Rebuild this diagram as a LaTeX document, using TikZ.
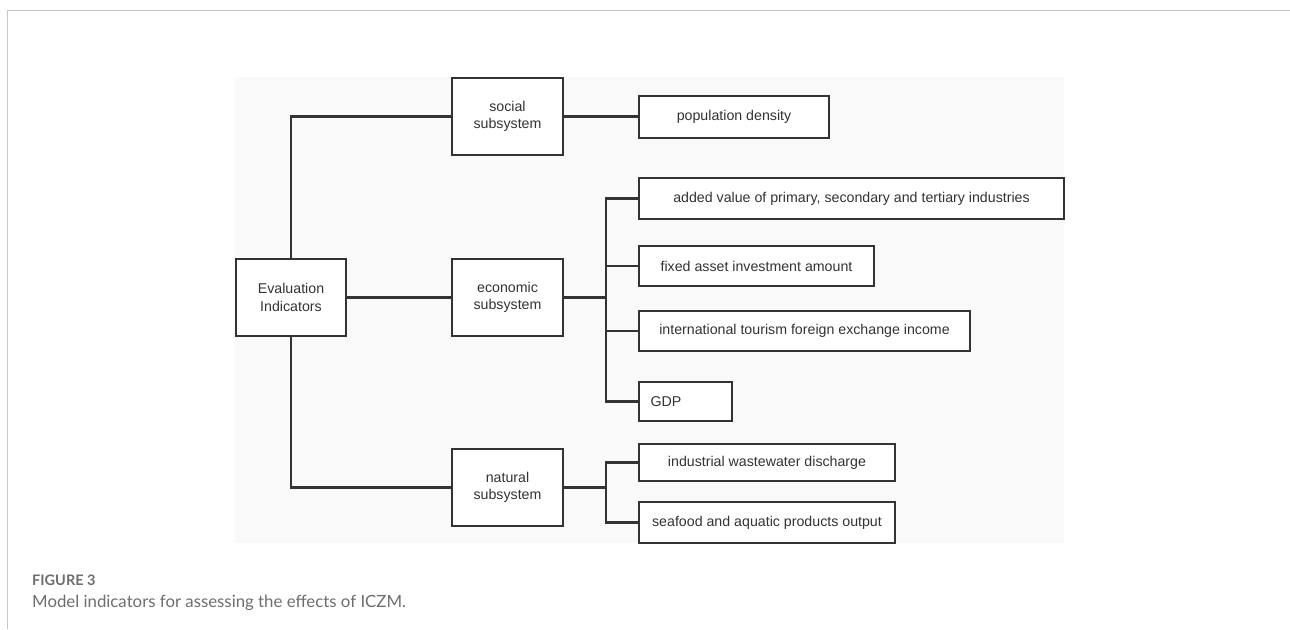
\documentclass[tikz,border=0pt]{standalone}
\usepackage{fontspec}
\setmainfont{Liberation Sans}
\newfontfamily\capfont{Lato}
\newfontfamily\capbold{Lato Bold}
\definecolor{ink}{HTML}{333333}
\definecolor{panel}{HTML}{F9F9F9}
\definecolor{frame}{HTML}{C8C8C8}
\definecolor{capgray}{HTML}{6E6E6E}
\begin{document}
\begin{tikzpicture}[x=1pt,y=-1pt,
  box/.style={draw=ink,line width=2.1pt,fill=white,inner sep=0pt,align=center,
    text=ink,font=\fontsize{14.2}{17.5}\selectfont},
  link/.style={draw=ink,line width=2.1pt}]
\useasboundingbox (0,0) rectangle (1290,629);
\fill[white] (0,0) rectangle (1290,629);
\draw[frame,line width=1pt] (7.5,629) -- (7.5,10.5) -- (1290,10.5);
\fill[panel] (235,77) rectangle (1064,543);
% main boxes
\node[box,minimum width=110pt,minimum height=77pt] (eval) at (291,297.5) {Evaluation\\Indicators};
\node[box,minimum width=111pt,minimum height=77pt] (social) at (507.5,116.5) {social\\subsystem};
\node[box,minimum width=111pt,minimum height=77pt] (econ) at (507.5,297.5) {economic\\subsystem};
\node[box,minimum width=111pt,minimum height=77pt] (nat) at (507.5,487.5) {natural\\subsystem};
% leaf boxes
\node[box,minimum width=190pt,minimum height=42pt] (pop) at (734,117) {population density};
\node[box,minimum width=425pt,minimum height=41pt] (added) at (851.5,198.5) {added value of primary, secondary and tertiary industries};
\node[box,minimum width=235pt,minimum height=40pt] (fixed) at (756.5,266) {fixed asset investment amount};
\node[box,minimum width=331pt,minimum height=40pt] (intl) at (804.5,331) {international tourism foreign exchange income};
\node[box,minimum width=93pt,minimum height=39pt,text width=70pt,align=left] (gdp) at (685.5,401.5) {GDP};
\node[box,minimum width=256pt,minimum height=37pt] (waste) at (767,462.5) {industrial wastewater discharge};
\node[box,minimum width=256pt,minimum height=41pt] (sea) at (767,522.5) {seafood and aquatic products output};
% bus coordinates
\coordinate (eb) at (606,297.5);
\coordinate (nb) at (606,487.5);
% connectors
\draw[link] (eval.north) |- (social.west);
\draw[link] (eval.east) -- (econ.west);
\draw[link] (eval.south) |- (nat.west);
\draw[link] (social.east) -- (social.east -| pop.west);
\draw[link] (econ.east) -- (eb);
\foreach \n in {added,fixed,intl,gdp} \draw[link] (eb) |- (\n.west);
\draw[link] (nat.east) -- (nb);
\foreach \n in {waste,sea} \draw[link] (nb) |- (\n.west);
% caption
\node[anchor=base west,inner sep=0pt,text=capgray,font=\capbold\fontsize{14.5}{16}\selectfont] (fig) at (32,585) {FIGURE 3};
\node[anchor=base west,inner sep=0pt,text=capgray,font=\capfont\fontsize{16.8}{20}\selectfont] (cap) at (32,607) {Model indicators for assessing the effects of ICZM.};
\end{tikzpicture}
\end{document}
